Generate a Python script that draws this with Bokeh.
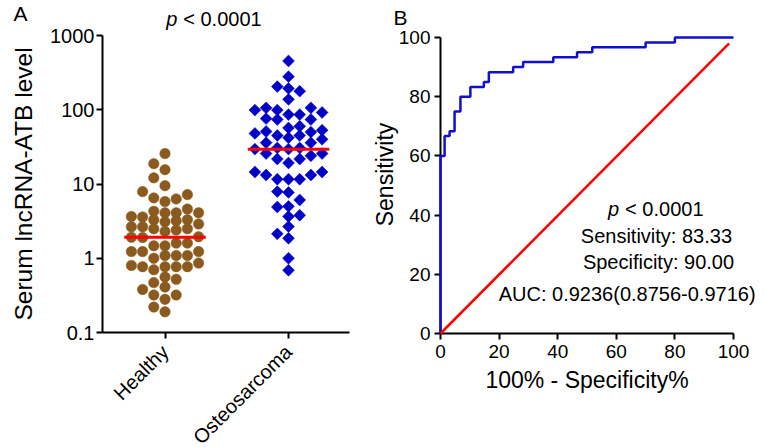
import math
from bokeh.plotting import figure
from bokeh.models import Range1d, FixedTicker, Label, ColumnDataSource
from bokeh.layouts import row
from bokeh.embed import file_html
from bokeh.resources import INLINE

# ---------------- data ----------------
categories = ["Healthy", "Osteosarcoma"]
healthy = [25.7, 18.8, 15.6, 12.1, 9.5, 7.9, 7.2, 6.5, 6.3, 5.8, 4.6, 4.3, 4.1, 4.1, 4.1,
           3.65, 3.6, 3.3, 3.2, 3.3, 3.1, 2.9, 2.65, 2.65, 2.5, 2.5, 2.4, 2.3, 1.95, 1.92,
           1.9, 1.6, 1.6, 1.47, 1.47, 1.23, 1.23, 1.23, 1.09, 1.09, 1.09, 1.0, 0.86, 0.8,
           0.77, 0.77, 0.77, 0.77, 0.7, 0.56, 0.52, 0.47, 0.41, 0.38, 0.32, 0.32, 0.28,
           0.22, 0.19]
osteo = [454, 279, 205, 194, 178, 138, 106, 106, 99, 99, 92, 86, 86, 76, 74, 74, 60, 57,
         53, 51, 50, 48, 45, 45, 42, 40, 36, 36, 30.6, 30.6, 29.5, 29.5, 25.7, 25.7, 24,
         21.7, 21.7, 19.2, 14.5, 14.5, 13.2, 13.2, 11.6, 11.6, 11.6, 7.9, 7.7, 6.1, 5.0,
         4.9, 3.8, 3.65, 2.67, 2.13, 1.86, 1.0, 0.69]
medians = [1.92, 29.3]
y_ticks_a = [0.1, 1, 10, 100, 1000]
y_tick_labels_a = ["0.1", "1", "10", "100", "1000"]

roc_fpr = [0, 0, 1.4, 3.1, 4.8, 6.8, 10.2, 14.8, 16.5, 24.8, 28.2, 38.5, 46.6, 51.8, 70, 80, 100]
roc_tpr = [0, 60, 66.7, 68.3, 75, 80, 83.3, 85, 88.3, 90, 91.7, 93.3, 95, 96.7, 98.3, 100, 100]
diag_x = [0, 98.5]
diag_y = [0, 98]
roc_ticks = [0, 20, 40, 60, 80, 100]
stats_lines = ["Sensitivity: 83.33", "Specificity: 90.00", "AUC: 0.9236(0.8756-0.9716)"]
p_rest = "< 0.0001"

FONT = "Liberation Sans"
BROWN = "#8B5A1E"
BLUE = "#0000C8"
H = 448

# ---------------- geometry (pixels) ----------------
A_W = 360
A_LEFT, A_RIGHT = 102, 349          # x-axis line extent
A_C1, A_C2 = 164.5, 288.0           # category centres
A_TOP, A_BOT = 35.0, 332.0          # 1000 and 0.1
PXU = A_C2 - A_C1
PXD = (A_BOT - A_TOP) / 4.0

B_OFF, B_W = 360, 404
B_X0, B_X100 = 440 - B_OFF, 733 - B_OFF
B_Y100, B_Y0 = 37.0, 333.0
PXB_X = (B_X100 - B_X0) / 100.0
PXB_Y = (B_Y0 - B_Y100) / 100.0


def style_axis(ax, tick_size):
    ax.axis_line_width = 2
    ax.axis_line_color = "black"
    ax.major_tick_line_width = 2
    ax.major_tick_line_color = "black"
    ax.major_tick_out = 6
    ax.major_tick_in = 0
    ax.minor_tick_line_color = None
    ax.major_label_text_font = FONT
    ax.major_label_text_font_size = tick_size
    ax.major_label_text_color = "black"
    ax.axis_label_text_font = FONT
    ax.axis_label_text_font_size = "23px"
    ax.axis_label_text_font_style = "normal"
    ax.axis_label_text_color = "black"


# ---------------- beeswarm offsets (pixel based) ----------------
COL_PX = 11.2
DOT_PX = 10.0
MAX_COL = 3


def swarm(vals, center):
    order = sorted(range(len(vals)), key=lambda i: vals[i])
    placed = []
    xs = [center] * len(vals)
    for n, i in enumerate(order):
        ypx = math.log10(vals[i]) * PXD
        sgn = 1 if n % 2 == 0 else -1
        cands = [0]
        for k in range(1, MAX_COL + 1):
            cands += [k * sgn, -k * sgn]
        best, best_gap = 0, -1.0
        for c in cands:
            gaps = [abs(py - ypx) for pc, py in placed if pc == c]
            gap = min(gaps) if gaps else 1e9
            if gap >= DOT_PX:
                best = c
                break
            if gap > best_gap + 0.5:
                best, best_gap = c, gap
        placed.append((best, ypx))
        xs[i] = center + best * COL_PX / PXU
    return xs


# ---------------- panel A ----------------
xa0 = 1 - A_C1 / PXU
xa1 = 1 + (A_W - A_C1) / PXU
ya0 = 10 ** (-1 - (H - A_BOT) / PXD)
ya1 = 10 ** (3 + A_TOP / PXD)
ax_left = 1 + (A_LEFT - A_C1) / PXU
ax_right = 1 + (A_RIGHT - A_C1) / PXU

pA = figure(width=A_W, height=H, x_range=Range1d(xa0, xa1), y_range=Range1d(ya0, ya1),
            y_axis_type="log", output_backend="svg", toolbar_location=None,
            min_border=0, min_border_left=0, min_border_right=0, min_border_top=0,
            min_border_bottom=0)
pA.outline_line_color = None
pA.grid.visible = False
pA.background_fill_color = "white"
pA.border_fill_color = "white"

xa = pA.xaxis[0]
ya = pA.yaxis[0]
style_axis(xa, "20px")
style_axis(ya, "20px")
xa.fixed_location = 0.1
xa.bounds = (ax_left, ax_right)
xa.ticker = FixedTicker(ticks=[1, 2])
xa.major_label_overrides = {i + 1: c for i, c in enumerate(categories)}
xa.major_label_orientation = math.pi / 4
xa.major_label_standoff = 10
ya.fixed_location = ax_left
ya.bounds = (0.1, 1000)
ya.ticker = FixedTicker(ticks=y_ticks_a)
ya.major_label_overrides = dict(zip(y_ticks_a, y_tick_labels_a))
ya.major_label_standoff = 2
ya.axis_label = "Serum lncRNA-ATB level"
ya.axis_label_text_font_size = "24.5px"
ya.axis_label_standoff = 10

hx = swarm(healthy, 1)
ox = swarm(osteo, 2)
pA.scatter(hx, healthy, marker="circle", size=10.5, fill_color=BROWN, line_color=BROWN, line_width=0.5)
pA.scatter(ox, osteo, marker="square", angle=math.pi / 4, size=8.4, fill_color=BLUE,
           line_color=BLUE, line_width=0.5)

msrc = ColumnDataSource(dict(x0=[i + 1 - 0.33 for i in range(len(categories))],
                             x1=[i + 1 + 0.33 for i in range(len(categories))],
                             y=medians))
pA.segment(x0="x0", y0="y", x1="x1", y1="y", source=msrc, line_color="#FF0000", line_width=3)

pA.add_layout(Label(x=1.01, y=1000, y_offset=17, text="p", text_font=FONT, text_font_size="20px",
                    text_font_style="italic", text_align="left", text_baseline="middle",
                    text_color="black"))
pA.add_layout(Label(x=1.01, y=1000, x_offset=17, y_offset=17, text=p_rest, text_font=FONT,
                    text_font_size="20px", text_align="left", text_baseline="middle",
                    text_color="black"))
pA.add_layout(Label(x=ax_left, y=1000, x_offset=-82, y_offset=22, text="A", text_font=FONT,
                    text_font_size="21px", text_align="center", text_baseline="middle",
                    text_color="black"))

# ---------------- panel B ----------------
xb0 = -B_X0 / PXB_X
xb1 = 100 + (B_W - B_X100) / PXB_X
yb0 = -(H - B_Y0) / PXB_Y
yb1 = 100 + B_Y100 / PXB_Y

pB = figure(width=B_W, height=H, x_range=Range1d(xb0, xb1), y_range=Range1d(yb0, yb1),
            output_backend="svg", toolbar_location=None,
            min_border=0, min_border_left=0, min_border_right=0, min_border_top=0,
            min_border_bottom=0)
pB.outline_line_color = None
pB.grid.visible = False
xb = pB.xaxis[0]
yb = pB.yaxis[0]
style_axis(xb, "19px")
style_axis(yb, "19px")
xb.fixed_location = 0
xb.bounds = (0, 100)
yb.fixed_location = 0
yb.bounds = (0, 100)
xb.ticker = FixedTicker(ticks=roc_ticks)
yb.ticker = FixedTicker(ticks=roc_ticks)
yb.major_label_standoff = 4
xb.axis_label = "100% - Specificity%"
xb.axis_label_standoff = 6

pB.add_layout(Label(x=0, y=0, x_offset=-56, y_offset=159, text="Sensitivity", angle=math.pi / 2,
                    text_font=FONT, text_font_size="23px", text_align="center",
                    text_baseline="middle", text_color="black"))

r1 = pB.step(roc_fpr, roc_tpr, mode="after", line_color="#1010CC", line_width=2.5)
r1.level = "overlay"
r2 = pB.line(diag_x, diag_y, line_color="#FF0000", line_width=2.5)
r2.level = "overlay"

pB.add_layout(Label(x=57.2, y=42.2, text="p", text_font=FONT, text_font_size="20px",
                    text_font_style="italic", text_align="left", text_baseline="middle",
                    text_color="black"))
pB.add_layout(Label(x=57.2, y=42.2, x_offset=17, text=p_rest, text_font=FONT,
                    text_font_size="20px", text_align="left", text_baseline="middle",
                    text_color="black"))
for (tx, ty), t in zip([(73.7, 33.1), (74.4, 24.1), (63.7, 13.4)], stats_lines):
    pB.add_layout(Label(x=tx, y=ty, text=t, text_font=FONT, text_font_size="20px",
                        text_align="center", text_baseline="middle", text_color="black"))
pB.add_layout(Label(x=0, y=100, x_offset=-40, y_offset=20, text="B", text_font=FONT,
                    text_font_size="21px", text_align="center", text_baseline="middle",
                    text_color="black"))

layout = row(pA, pB)
open("out.html", "w").write(file_html(layout, INLINE))
